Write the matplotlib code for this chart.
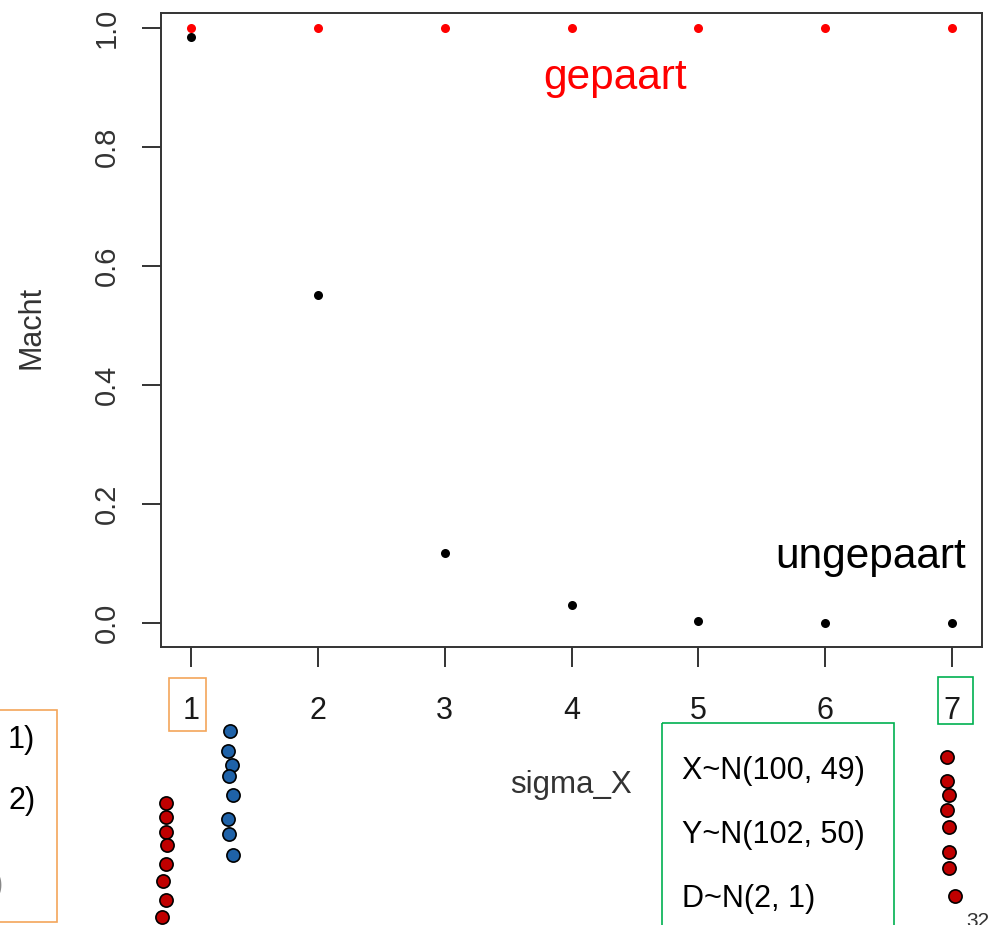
import matplotlib
matplotlib.use("Agg")
import matplotlib.pyplot as plt
from matplotlib.patches import Rectangle

plt.rcParams['font.family'] = ['Liberation Sans', 'DejaVu Sans']

# power values
sigma_x = [1, 2, 3, 4, 5, 6, 7]
power_paired = [1.0, 1.0, 1.0, 1.0, 1.0, 1.0, 1.0]
power_unpaired = [0.985, 0.551, 0.118, 0.030, 0.003, 0.0, 0.0]
y_ticks = [0.0, 0.2, 0.4, 0.6, 0.8, 1.0]
y_ticklabels = ["0.0", "0.2", "0.4", "0.6", "0.8", "1.0"]

# slide decorations (pixel positions on the slide)
red_left_x = [166, 166, 166, 167, 166, 163, 166, 162]
red_left_y = [803, 817, 832, 845, 864, 881, 900, 917]
blue_x = [230, 228, 232, 229, 233, 228, 229, 233]
blue_y = [731, 751, 765, 776, 795, 819, 834, 855]
red_right_x = [947, 947, 949, 947, 949, 949, 949, 955]
red_right_y = [757, 781, 795, 810, 827, 852, 868, 896]
dist_lines = ["X~N(100, 49)", "Y~N(102, 50)", "D~N(2, 1)"]

W, H = 989, 925
fig = plt.figure(figsize=(W / 100, H / 100), dpi=100)

# main R-style plot
ax = fig.add_axes([161 / W, 1 - 647 / H, (982 - 161) / W, (647 - 13) / H])
ax.plot(sigma_x, power_paired, "o", color="red", markersize=6.5, markeredgewidth=0)
ax.plot(sigma_x, power_unpaired, "o", color="black", markersize=6.5, markeredgewidth=0)
ax.set_xlim(0.76, 7.24)
ax.set_ylim(-0.04, 1.025)
for s in ax.spines.values():
    s.set_color("#333333")
    s.set_linewidth(1.4)
ax.set_xticks(sigma_x)
ax.set_xticklabels([str(v) for v in sigma_x], fontsize=22, color="#1a1a1a")
ax.set_yticks(y_ticks)
ax.set_yticklabels(y_ticklabels, fontsize=21, color="#333333", rotation=90, va="center")
ax.tick_params(axis="x", length=14.5, width=1.4, color="#333333", pad=21)
ax.tick_params(axis="y", length=14, width=1.4, color="#333333", pad=15)
ax.text(4.34, 0.916, "gepaart", color="red", fontsize=30.5, ha="center", va="center")
ax.text(6.36, 0.111, "ungepaart", color="black", fontsize=30.5, ha="center", va="center")

# overlay in slide pixel coordinates
ov = fig.add_axes([0, 0, 1, 1], zorder=5)
ov.set_xlim(0, W)
ov.set_ylim(H, 0)
ov.axis("off")
ov.patch.set_alpha(0)

ov.text(32, 327, "Macht", rotation=90, fontsize=22, color="#333333", ha="center", va="center")
ov.text(571, 785, "sigma_X", fontsize=22.5, color="#333333", ha="center", va="center")

orange = "#F4A55A"
green = "#00B050"
ov.add_patch(Rectangle((169, 678), 37, 53, fill=False, edgecolor=orange, lw=1.2))
ov.add_patch(Rectangle((938, 677), 35, 47, fill=False, edgecolor=green, lw=1.2))
ov.add_patch(Rectangle((-10, 710), 67, 212, fill=False, edgecolor=orange, lw=1.2))
ov.add_patch(Rectangle((662, 723), 232, 230, fill=False, edgecolor=green, lw=1.2, clip_on=True))

ov.text(8, 740, "1)", fontsize=22, color="black", ha="left", va="center")
ov.text(8, 801, "2)", fontsize=22, color="black", ha="left", va="center")
ov.text(3, 885, ")", fontsize=22, color="#888888", ha="right", va="center")

for i, line in enumerate(dist_lines):
    ov.text(682, 771 + i * 64, line, fontsize=22, color="black", ha="left", va="center")

ov.plot(red_left_x, red_left_y, "o", color="#C00000", markeredgecolor="black",
        markersize=9.5, markeredgewidth=1.2, linestyle="none")
ov.plot(blue_x, blue_y, "o", color="#1F62A8", markeredgecolor="black",
        markersize=9.5, markeredgewidth=1.2, linestyle="none")
ov.plot(red_right_x, red_right_y, "o", color="#C00000", markeredgecolor="black",
        markersize=9.5, markeredgewidth=1.2, linestyle="none")

ov.text(966, 912, "32", fontsize=15, color="#333333", ha="left", va="top")

fig.savefig("out.png", dpi=100)
